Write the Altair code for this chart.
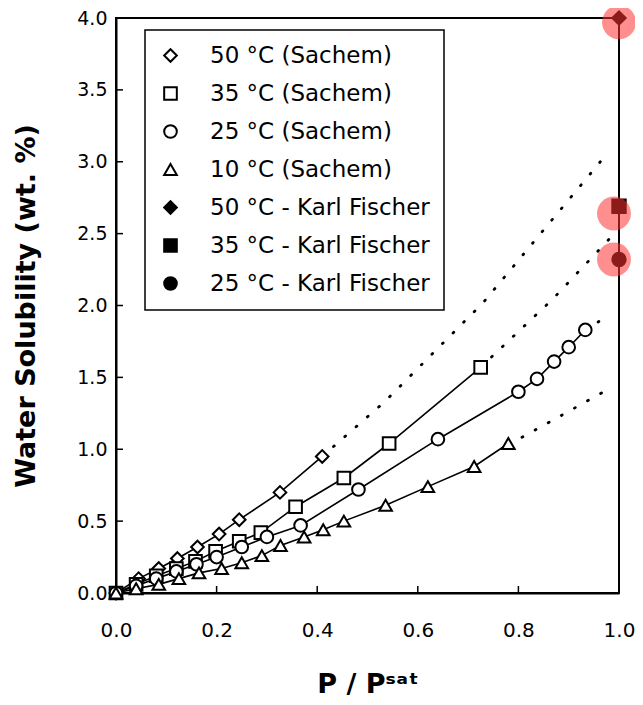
import altair as alt
import pandas as pd

# ---------------- data ----------------
series_names = ["50 °C (Sachem)", "35 °C (Sachem)", "25 °C (Sachem)", "10 °C (Sachem)",
                "50 °C - Karl Fischer", "35 °C - Karl Fischer", "25 °C - Karl Fischer"]
shapes = ["diamond", "square", "circle", "triangle-up", "diamond", "square", "circle"]
fills = ["white", "white", "white", "white", "black", "black", "black"]
strokes = ["black"] * 7

x50 = [0.0, 0.045, 0.085, 0.122, 0.162, 0.205, 0.245, 0.326, 0.41]
y50 = [0.0, 0.10, 0.17, 0.24, 0.32, 0.41, 0.51, 0.70, 0.95]

x35 = [0.0, 0.04, 0.08, 0.12, 0.158, 0.198, 0.245, 0.288, 0.357, 0.453, 0.543, 0.725]
y35 = [0.0, 0.06, 0.12, 0.17, 0.22, 0.29, 0.36, 0.42, 0.60, 0.80, 1.04, 1.57]

x25 = [0.0, 0.04, 0.08, 0.12, 0.16, 0.20, 0.25, 0.30, 0.367, 0.482, 0.64, 0.80, 0.837, 0.871, 0.90, 0.933]
y25 = [0.0, 0.05, 0.10, 0.15, 0.20, 0.25, 0.32, 0.39, 0.47, 0.72, 1.07, 1.40, 1.49, 1.61, 1.71, 1.83]

x10 = [0.0, 0.04, 0.085, 0.125, 0.165, 0.21, 0.25, 0.29, 0.327, 0.374, 0.412, 0.453, 0.536, 0.62, 0.712, 0.78]
y10 = [0.0, 0.03, 0.06, 0.10, 0.14, 0.17, 0.21, 0.26, 0.33, 0.39, 0.44, 0.50, 0.61, 0.74, 0.88, 1.04]

# Karl Fischer points (x = 1.0)
kf_x = [1.0, 1.0, 1.0]
kf_y = [4.0, 2.69, 2.32]

# dotted extrapolations
ext50_x = [0.41, 0.534, 0.73, 0.97]
ext50_y = [0.95, 1.33, 2.02, 3.03]
ext35_x = [0.725, 0.758, 0.867, 0.98]
ext35_y = [1.57, 1.68, 2.04, 2.46]
ext25_x = [0.933, 0.97]
ext25_y = [1.83, 1.91]
ext10_x = [0.78, 0.811, 0.98]
ext10_y = [1.04, 1.09, 1.42]

# highlight circles over the Karl Fischer points
hl_x = [1.0, 0.99, 0.99]
hl_y = [3.97, 2.64, 2.32]

x_ticks = [0.0, 0.2, 0.4, 0.6, 0.8, 1.0]
y_ticks = [0.0, 0.5, 1.0, 1.5, 2.0, 2.5, 3.0, 3.5, 4.0]

# ---------------- tables ----------------
def frame(xs, ys, name):
    return pd.DataFrame({"x": xs, "y": ys, "series": name})

sachem = pd.concat([
    frame(x50, y50, series_names[0]),
    frame(x35, y35, series_names[1]),
    frame(x25, y25, series_names[2]),
    frame(x10, y10, series_names[3]),
])
kf = pd.DataFrame({"x": kf_x, "y": kf_y, "series": series_names[4:]})
ext = pd.concat([
    frame(ext50_x, ext50_y, "e50"),
    frame(ext35_x, ext35_y, "e35"),
    frame(ext25_x, ext25_y, "e25"),
    frame(ext10_x, ext10_y, "e10"),
])
hl = pd.DataFrame({"x": hl_x, "y": hl_y})
xt = pd.DataFrame({"v": x_ticks})
yt = pd.DataFrame({"v": y_ticks})

W, H = 503, 575

xscale = alt.Scale(domain=[0, 1], nice=False, zero=False)
yscale = alt.Scale(domain=[0, 4], nice=False, zero=False)

X = alt.X("x:Q", scale=xscale, title="P / Pˢᵃᵗ",
          axis=alt.Axis(values=x_ticks, format=".1f", ticks=False, grid=False,
                        labelFlush=False, labelPadding=27, titlePadding=31,
                        labelFontSize=20))
Y = alt.Y("y:Q", scale=yscale, title="Water Solubility (wt. %)",
          axis=alt.Axis(values=y_ticks, format=".1f", ticks=False, grid=False,
                        labelFlush=False, labelPadding=9, titlePadding=36,
                        labelFontSize=19))

shape_enc = alt.Shape("series:N", scale=alt.Scale(domain=series_names, range=shapes),
                      title=None, sort=series_names)
fill_enc = alt.Fill("series:N", scale=alt.Scale(domain=series_names, range=fills),
                    title=None, sort=series_names)
stroke_enc = alt.Stroke("series:N", scale=alt.Scale(domain=series_names, range=strokes),
                        title=None, sort=series_names)

lines = alt.Chart(sachem).mark_line(color="black", strokeWidth=1.6).encode(
    x=X, y=Y, detail="series:N")

dots = alt.Chart(ext).mark_line(color="black", strokeWidth=2.8, strokeDash=[1, 14],
                                strokeCap="round").encode(
    x=alt.X("x:Q", scale=xscale), y=alt.Y("y:Q", scale=yscale), detail="series:N")

pts = alt.Chart(sachem).mark_point(strokeWidth=2, size=160, opacity=1).encode(
    x=alt.X("x:Q", scale=xscale), y=alt.Y("y:Q", scale=yscale),
    shape=shape_enc, fill=fill_enc, stroke=stroke_enc)

kfpts = alt.Chart(kf).mark_point(strokeWidth=2, size=180, opacity=1).encode(
    x=alt.X("x:Q", scale=xscale), y=alt.Y("y:Q", scale=yscale),
    shape=shape_enc, fill=fill_enc, stroke=stroke_enc)

hlpts = alt.Chart(hl).mark_circle(color="#ff3333", opacity=0.55, size=1150).encode(
    x=alt.X("x:Q", scale=xscale), y=alt.Y("y:Q", scale=yscale))

ytick_marks = alt.Chart(yt).mark_rule(color="black", strokeWidth=1.5).encode(
    y=alt.Y("v:Q", scale=yscale), x=alt.value(0), x2=alt.value(7))
xtick_marks = alt.Chart(xt).mark_rule(color="black", strokeWidth=1.5).encode(
    x=alt.X("v:Q", scale=xscale), y=alt.value(H), y2=alt.value(H - 7))

chart = alt.layer(ytick_marks, xtick_marks, lines, dots, pts, kfpts, hlpts).properties(
    width=W, height=H,
    autosize=alt.AutoSizeParams(type="none"),
    padding={"left": 108, "top": 10, "right": 16, "bottom": 104}
).configure_view(
    stroke="black", strokeWidth=2
).configure_axis(
    domainColor="black", domainWidth=2,
    labelFont="DejaVu Sans", labelColor="black",
    titleFont="DejaVu Sans", titleFontSize=27, titleFontWeight="bold", titleColor="black"
).configure_legend(
    orient="none", legendX=29, legendY=12,
    strokeColor="black", strokeWidth=1.5, fillColor="white",
    padding=14, rowPadding=14, labelFont="DejaVu Sans", labelFontSize=23,
    labelColor="black", labelOffset=28, symbolSize=160, symbolStrokeWidth=2,
    labelLimit=400
)

chart.save("out.html", embed_options={"renderer": "svg", "actions": False})
